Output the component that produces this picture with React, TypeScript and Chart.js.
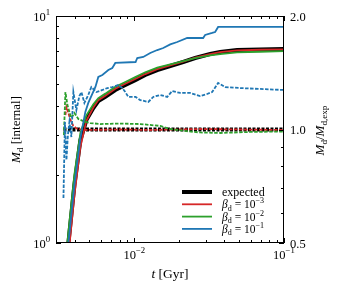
import React, { useEffect, useRef } from "react";
import { Chart, registerables } from "chart.js";
Chart.register(...registerables);

// ---- data (t in Gyr, M_d in internal units, ratio = M_d / M_d,exp) ----
const tSolid = [0.003365, 0.003631, 0.003981, 0.004365, 0.004786, 0.005329, 0.005754, 0.006408, 0.007466, 0.00871, 0.01015, 0.01184, 0.01424, 0.01738, 0.02122, 0.02551, 0.03211, 0.03744, 0.0486, 0.06918, 0.1];
const mExpected = [0.578, 1.0, 1.80, 2.84, 3.48, 3.93, 4.22, 4.40, 4.72, 4.97, 5.22, 5.50, 5.78, 6.02, 6.27, 6.53, 6.80, 6.94, 7.08, 7.12, 7.16];
const mBeta3 = [0.50, 0.88, 1.62, 2.65, 3.45, 3.95, 4.26, 4.45, 4.78, 5.03, 5.28, 5.55, 5.83, 6.06, 6.30, 6.55, 6.80, 6.93, 7.06, 7.10, 7.13];
const mBeta2 = [0.65, 1.12, 2.0, 3.05, 3.65, 4.08, 4.35, 4.55, 4.88, 5.12, 5.38, 5.65, 5.92, 6.12, 6.32, 6.52, 6.70, 6.80, 6.92, 6.96, 7.0];
const tBeta1 = [0.003365, 0.003631, 0.003981, 0.004365, 0.00471, 0.00493, 0.0055, 0.00575, 0.00612, 0.00671, 0.00713, 0.00747, 0.0102, 0.01047, 0.01148, 0.01278, 0.01424, 0.01561, 0.01738, 0.01936, 0.02256, 0.02884, 0.02973, 0.03311, 0.03467, 0.03631, 0.1];
const mBeta1 = [0.58, 1.0, 1.80, 2.90, 3.78, 4.14, 4.87, 5.39, 5.50, 5.78, 5.90, 6.21, 6.27, 6.53, 6.60, 6.87, 7.08, 7.23, 7.50, 7.68, 8.00, 8.00, 8.25, 8.42, 8.50, 8.95, 8.95];

const tRatioExp = [0.003365, 0.1];
const rExpected = [1.0, 1.0];
const tRatio3 = [0.003467, 0.003522, 0.003631, 0.003743, 0.003919, 0.004169, 0.00471, 0.00807, 0.01278, 0.02754, 0.1];
const rBeta3 = [1.092, 1.147, 1.106, 1.06, 1.022, 1.003, 0.997, 1.0, 0.997, 1.003, 0.997];
const tRatio2 = [0.003388, 0.003467, 0.003576, 0.003687, 0.0038, 0.003981, 0.004232, 0.004571, 0.005087, 0.005933, 0.00807, 0.01096, 0.01491, 0.01738, 0.02188, 0.02754, 0.03744, 0.05933, 0.1];
const rBeta2 = [0.967, 1.257, 1.161, 1.113, 1.073, 1.106, 1.066, 1.053, 1.040, 1.034, 1.037, 1.034, 1.022, 1.003, 0.991, 0.982, 0.979, 0.985, 0.988];
const tRatio1 = [0.003365, 0.003441, 0.003522, 0.003603, 0.003687, 0.0038, 0.003919, 0.004104, 0.004298, 0.004434, 0.004642, 0.00493, 0.005167, 0.005581, 0.00612, 0.0066, 0.00713, 0.00782, 0.00832, 0.00871, 0.00912, 0.0102, 0.01096, 0.0124, 0.01339, 0.01491, 0.0166, 0.01792, 0.02027, 0.02362, 0.02754, 0.03067, 0.03311, 0.03631, 0.04043, 0.05089, 0.06918, 0.1];
const rBeta1 = [0.658, 1.047, 0.830, 0.967, 1.047, 0.955, 1.257, 1.126, 1.227, 1.257, 1.176, 1.235, 1.296, 1.257, 1.273, 1.288, 1.296, 1.312, 1.288, 1.257, 1.22, 1.22, 1.197, 1.183, 1.22, 1.235, 1.22, 1.265, 1.25, 1.25, 1.227, 1.242, 1.257, 1.329, 1.296, 1.288, 1.281, 1.273];

const xMajor = [0.01, 0.1];
const xMinor = [0.004, 0.005, 0.006, 0.007, 0.008, 0.009, 0.02, 0.03, 0.04, 0.05, 0.06, 0.07, 0.08, 0.09];
const yMajor = [1, 10];
const yMinor = [2, 3, 4, 5, 6, 7, 8, 9];
const y2Major = [0.5, 1.0, 2.0];
const y2Labels = ["0.5", "1.0", "2.0"];
const y2Minor = [0.6, 0.7, 0.8, 0.9];
const legendLabels = ["expected", "−3", "−2", "−1"];

const C_BLACK = "#000000";
const C_RED = "#d62728";
const C_GREEN = "#2ca02c";
const C_BLUE = "#1f77b4";

type Seg = { t: string; it?: boolean; sup?: boolean; sub?: boolean };
const FONT = '"Liberation Serif", "DejaVu Serif", serif';

function segFont(s: Seg, size: number) {
  const sz = s.sup || s.sub ? size * 0.7 : size;
  return `${s.it ? "italic " : ""}${sz}px ${FONT}`;
}
function measureRich(ctx: CanvasRenderingContext2D, segs: Seg[], size: number) {
  let w = 0;
  for (const s of segs) {
    ctx.font = segFont(s, size);
    w += ctx.measureText(s.t).width;
  }
  return w;
}
function drawRich(ctx: CanvasRenderingContext2D, segs: Seg[], x: number, y: number, size: number, align: "left" | "center" | "right") {
  const w = measureRich(ctx, segs, size);
  let cx = align === "left" ? x : align === "center" ? x - w / 2 : x - w;
  ctx.textAlign = "left";
  ctx.textBaseline = "alphabetic";
  for (const s of segs) {
    ctx.font = segFont(s, size);
    const dy = s.sup ? -size * 0.42 : s.sub ? size * 0.22 : 0;
    ctx.fillText(s.t, cx, y + dy);
    cx += ctx.measureText(s.t).width;
  }
}

const pts = (t: number[], v: number[]) => t.map((x, i) => ({ x, y: v[i] }));

const decorPlugin = {
  id: "decor",
  afterDraw(chart: any) {
    const ctx: CanvasRenderingContext2D = chart.ctx;
    const { left, right, top, bottom } = chart.chartArea;
    const xs = chart.scales.x;
    const yl = chart.scales.y;
    const yr = chart.scales.y2;
    ctx.save();
    ctx.strokeStyle = "#000";
    ctx.fillStyle = "#000";
    ctx.lineWidth = 1;
    ctx.strokeRect(left + 0.5, top + 0.5, right - left - 1, bottom - top - 1);
    const MAJ = 5, MIN = 3;
    ctx.beginPath();
    const xt = (v: number, len: number) => {
      const p = Math.round(xs.getPixelForValue(v)) + 0.5;
      ctx.moveTo(p, bottom); ctx.lineTo(p, bottom - len);
      ctx.moveTo(p, top); ctx.lineTo(p, top + len);
    };
    xMajor.forEach((v) => xt(v, MAJ));
    xMinor.forEach((v) => xt(v, MIN));
    const ylt = (v: number, len: number) => {
      const p = Math.round(yl.getPixelForValue(v)) + 0.5;
      ctx.moveTo(left, p); ctx.lineTo(left + len, p);
    };
    yMajor.forEach((v) => ylt(v, MAJ));
    yMinor.forEach((v) => ylt(v, MIN));
    const yrt = (v: number, len: number) => {
      const p = Math.round(yr.getPixelForValue(v)) + 0.5;
      ctx.moveTo(right, p); ctx.lineTo(right - len, p);
    };
    y2Major.forEach((v) => yrt(v, MAJ));
    y2Minor.forEach((v) => yrt(v, MIN));
    ctx.stroke();

    const FS = 12.5;
    // left tick labels
    yMajor.forEach((v) => {
      const p = yl.getPixelForValue(v);
      drawRich(ctx, [{ t: "10" }, { t: String(Math.round(Math.log10(v))), sup: true }], left - 6, p + 4.5, FS, "right");
    });
    // bottom tick labels
    xMajor.forEach((v) => {
      const p = xs.getPixelForValue(v);
      drawRich(ctx, [{ t: "10" }, { t: "−" + String(-Math.round(Math.log10(v))), sup: true }], p, bottom + 15.5, FS, "center");
    });
    // right tick labels
    y2Major.forEach((v, i) => {
      const p = yr.getPixelForValue(v);
      drawRich(ctx, [{ t: y2Labels[i] }], right + 6, p + 4.5, FS, "left");
    });

    // axis titles
    drawRich(ctx, [{ t: "t", it: true }, { t: " [Gyr]" }], (left + right) / 2, bottom + 35, 13.5, "center");
    ctx.save();
    ctx.translate(20, (top + bottom) / 2);
    ctx.rotate(-Math.PI / 2);
    drawRich(ctx, [{ t: "M", it: true }, { t: "d", sub: true }, { t: " [internal]" }], 0, 0, 13, "center");
    ctx.restore();
    ctx.save();
    ctx.translate(324, (top + bottom) / 2 + 1);
    ctx.rotate(-Math.PI / 2);
    drawRich(ctx, [{ t: "M", it: true }, { t: "d", sub: true }, { t: "/" }, { t: "M", it: true }, { t: "d,exp", sub: true }], 0, 0, 13, "center");
    ctx.restore();

    // legend
    const colors = [C_BLACK, C_RED, C_GREEN, C_BLUE];
    const widths = [4, 1.8, 1.8, 1.8];
    const ly0 = 192, dy = 12.3, hx0 = 182, hx1 = 212, tx = 222;
    legendLabels.forEach((lab, i) => {
      const y = ly0 + i * dy;
      ctx.strokeStyle = colors[i];
      ctx.lineWidth = widths[i];
      ctx.setLineDash([]);
      ctx.beginPath();
      ctx.moveTo(hx0, y); ctx.lineTo(hx1, y); ctx.stroke();
      ctx.fillStyle = "#000";
      if (i === 0) {
        drawRich(ctx, [{ t: lab }], tx, y + 3.5, 12, "left");
      } else {
        drawRich(ctx, [{ t: "β", it: true }, { t: "d", sub: true }, { t: " = 10" }, { t: lab, sup: true }], tx, y + 4, 11.5, "left");
      }
    });
    ctx.restore();
  },
};

export default function App() {
  const ref = useRef<HTMLCanvasElement | null>(null);
  useEffect(() => {
    if (!ref.current) return;
    const solid = (label: string, data: any, color: string, w: number, order: number) => ({
      label, data, borderColor: color, backgroundColor: color, borderWidth: w,
      pointRadius: 0, tension: 0, yAxisID: "y", order, fill: false,
    });
    const dashed = (label: string, data: any, color: string, w: number, order: number, dash: number[]) => ({
      label, data, borderColor: color, backgroundColor: color, borderWidth: w,
      pointRadius: 0, tension: 0, yAxisID: "y2", order, borderDash: dash, fill: false,
    });
    const chart = new Chart(ref.current, {
      type: "line",
      data: {
        datasets: [
          solid("expected", pts(tSolid, mExpected), C_BLACK, 4, 10),
          dashed("expected ratio", pts(tRatioExp, rExpected), C_BLACK, 4, 9, [3, 1.5]),
          solid("beta 1e-3", pts(tSolid, mBeta3), C_RED, 1.8, 8),
          dashed("beta 1e-3 ratio", pts(tRatio3, rBeta3), C_RED, 1.8, 7, [3.5, 1.5]),
          solid("beta 1e-2", pts(tSolid, mBeta2), C_GREEN, 1.8, 6),
          dashed("beta 1e-2 ratio", pts(tRatio2, rBeta2), C_GREEN, 1.8, 5, [3.5, 1.5]),
          solid("beta 1e-1", pts(tBeta1, mBeta1), C_BLUE, 1.8, 4),
          dashed("beta 1e-1 ratio", pts(tRatio1, rBeta1), C_BLUE, 1.8, 3, [3.5, 1.5]),
        ] as any,
      },
      options: {
        responsive: false,
        animation: false,
        layout: { padding: { left: 56, right: 55, top: 16, bottom: 50 } },
        scales: {
          x: { type: "logarithmic", min: 0.003, max: 0.1, display: false },
          y: { type: "logarithmic", min: 1, max: 10, display: false },
          y2: { type: "logarithmic", min: 0.5, max: 2, display: false, position: "right" },
        },
        plugins: { legend: { display: false }, tooltip: { enabled: false } },
      } as any,
      plugins: [decorPlugin],
    });
    return () => chart.destroy();
  }, []);
  return (
    <div style={{ position: "absolute", left: 0, top: 0, width: 339, height: 293, background: "#fff" }}>
      <canvas ref={ref} width={339} height={293} />
    </div>
  );
}
